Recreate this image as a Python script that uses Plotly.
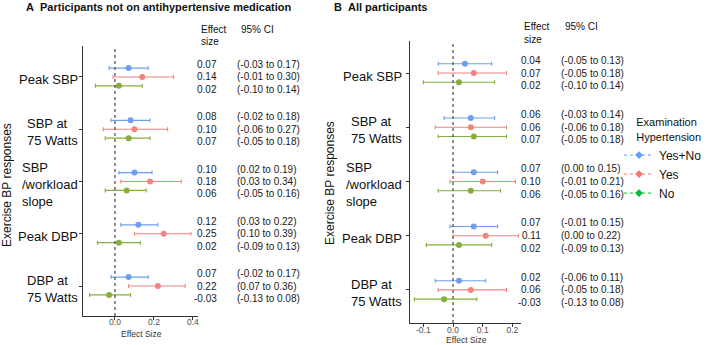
import plotly.graph_objects as go

W, H = 709, 345
FONT = "Liberation Sans, Arial, sans-serif"

categories = ["Peak SBP", "SBP at<br>75 Watts", "SBP<br>/workload<br>slope", "Peak DBP", "DBP at<br>75 Watts"]
groups = ["Yes+No", "Yes", "No"]

# Panel A: participants not on antihypertensive medication
a_est = {"Yes+No": [0.07, 0.08, 0.10, 0.12, 0.07],
         "Yes":    [0.14, 0.10, 0.18, 0.25, 0.22],
         "No":     [0.02, 0.07, 0.06, 0.02, -0.03]}
a_lo = {"Yes+No": [-0.03, -0.02, 0.02, 0.03, -0.02],
        "Yes":    [-0.01, -0.06, 0.03, 0.10, 0.07],
        "No":     [-0.10, -0.05, -0.05, -0.09, -0.13]}
a_hi = {"Yes+No": [0.17, 0.18, 0.19, 0.22, 0.17],
        "Yes":    [0.30, 0.27, 0.34, 0.39, 0.36],
        "No":     [0.14, 0.18, 0.16, 0.13, 0.08]}

# Panel B: all participants
b_est = {"Yes+No": [0.04, 0.06, 0.07, 0.07, 0.02],
         "Yes":    [0.07, 0.06, 0.10, 0.11, 0.06],
         "No":     [0.02, 0.07, 0.06, 0.02, -0.03]}
b_lo = {"Yes+No": [-0.05, -0.03, 0.00, -0.01, -0.06],
        "Yes":    [-0.05, -0.06, -0.01, 0.00, -0.05],
        "No":     [-0.10, -0.05, -0.05, -0.09, -0.13]}
b_hi = {"Yes+No": [0.13, 0.14, 0.15, 0.15, 0.11],
        "Yes":    [0.18, 0.18, 0.21, 0.22, 0.18],
        "No":     [0.14, 0.18, 0.16, 0.13, 0.08]}

a_xticks = [0.0, 0.2, 0.4]
b_xticks = [-0.1, 0.0, 0.1, 0.2]

point_colors = {"Yes+No": "#6E9FEC", "Yes": "#F08580", "No": "#86AE3A"}
legend_colors = {"Yes+No": "#619CFF", "Yes": "#F8766D", "No": "#00BA38"}
offsets = {"Yes+No": 0.17, "Yes": 0.0, "No": -0.17}
text_off = {"Yes+No": 0.235, "Yes": 0.0, "No": -0.235}

ncat = len(categories)
cat_pos = [ncat - i for i in range(ncat)]  # top to bottom

def px(x):
    return x / W

def py(y):
    return 1 - y / H

fig = go.Figure()

panels = [
    dict(est=a_est, lo=a_lo, hi=a_hi, xa="x", ya="y", eff_x=219, ci_x=235),
    dict(est=b_est, lo=b_lo, hi=b_hi, xa="x2", ya="y2", eff_x=543, ci_x=559),
]

annotations = []
for p in panels:
    for g in groups:
        ys = [c + offsets[g] for c in cat_pos]
        est = p["est"][g]
        plus = [h - e for h, e in zip(p["hi"][g], est)]
        minus = [e - l for e, l in zip(est, p["lo"][g])]
        fig.add_trace(go.Scatter(
            x=est, y=ys, mode="markers", xaxis=p["xa"], yaxis=p["ya"],
            marker=dict(color=point_colors[g], size=6),
            error_x=dict(type="data", symmetric=False, array=plus, arrayminus=minus,
                         color=point_colors[g], thickness=1.1, width=2),
            showlegend=False, hoverinfo="skip"))
        for c, e, l, h in zip(cat_pos, est, p["lo"][g], p["hi"][g]):
            yy = c + text_off[g]
            annotations.append(dict(x=px(p["eff_x"]), xref="paper", y=yy, yref=p["ya"],
                                    text=f"{e:.2f}", showarrow=False, xanchor="right",
                                    font=dict(size=10, color="#1a1a1a", family=FONT)))
            annotations.append(dict(x=px(p["ci_x"]), xref="paper", y=yy, yref=p["ya"],
                                    text=f"({l:.2f} to {h:.2f})", showarrow=False, xanchor="left",
                                    font=dict(size=10, color="#1a1a1a", family=FONT)))

# legend traces
for g in groups:
    fig.add_trace(go.Scatter(x=[None], y=[None], mode="lines+markers", name=g,
                             line=dict(color=legend_colors[g], dash="dot", width=1),
                             marker=dict(color=legend_colors[g], size=6, symbol="diamond"),
                             xaxis="x2", yaxis="y2"))

# category labels
for ya, xr in [("y", 80), ("y2", 404)]:
    for c, lab in zip(cat_pos, categories):
        annotations.append(dict(x=px(xr), xref="paper", y=c, yref=ya, text=lab,
                                showarrow=False, xanchor="right", align="left", yshift=-3,
                                font=dict(size=13, color="#111111", family=FONT)))

# headers
for ex, cx, ytop in [(199, 239, 29), (522, 563, 26)]:
    annotations.append(dict(x=px(ex), y=py(ytop), xref="paper", yref="paper", text="Effect",
                            showarrow=False, xanchor="left", yanchor="middle",
                            font=dict(size=10, color="#111111", family=FONT)))
    annotations.append(dict(x=px(ex), y=py(ytop + 13), xref="paper", yref="paper", text="size",
                            showarrow=False, xanchor="left", yanchor="middle",
                            font=dict(size=10, color="#111111", family=FONT)))
    annotations.append(dict(x=px(cx), y=py(ytop), xref="paper", yref="paper", text="95% CI",
                            showarrow=False, xanchor="left", yanchor="middle",
                            font=dict(size=10, color="#111111", family=FONT)))

# panel titles
for lx, tx, letter, txt in [(24, 38, "A", "Participants not on antihypertensive medication"),
                            (332, 346, "B", "All participants")]:
    annotations.append(dict(x=px(lx), y=py(7), xref="paper", yref="paper",
                            text="<b>" + letter + "</b>",
                            showarrow=False, xanchor="left", yanchor="middle",
                            font=dict(size=11, color="#111111", family=FONT)))
    annotations.append(dict(x=px(tx), y=py(7), xref="paper", yref="paper", text="<b>" + txt + "</b>",
                            showarrow=False, xanchor="left", yanchor="middle",
                            font=dict(size=11, color="#111111", family=FONT)))

# y axis titles
for xx, yy in [(7, 185), (330, 183)]:
    annotations.append(dict(x=px(xx), y=py(yy), xref="paper", yref="paper",
                            text="Exercise BP responses", textangle=-90, showarrow=False,
                            xanchor="center", yanchor="middle",
                            font=dict(size=12, color="#111111", family=FONT)))

# x axis titles
for xx, yy in [(141, 334), (466, 340)]:
    annotations.append(dict(x=px(xx), y=py(yy), xref="paper", yref="paper",
                            text="Effect Size", showarrow=False, xanchor="center", yanchor="middle",
                            font=dict(size=8.5, color="#333333", family=FONT)))

shapes = [
    dict(type="line", xref="x", yref="y domain", x0=0, x1=0, y0=0, y1=1,
         line=dict(color="#555555", width=1.3, dash="3px,3px")),
    dict(type="line", xref="x2", yref="y2 domain", x0=0, x1=0, y0=0, y1=1,
         line=dict(color="#555555", width=1.3, dash="3px,3px")),
]

axis_common = dict(showgrid=False, zeroline=False, showline=True, linecolor="#333333",
                   linewidth=1, ticks="outside", ticklen=3, tickcolor="#333333", automargin=False,
                   tickfont=dict(size=8.5, color="#4d4d4d", family=FONT))

fig.update_layout(
    width=W, height=H, margin=dict(l=0, r=0, t=0, b=0),
    paper_bgcolor="white", plot_bgcolor="white",
    font=dict(family=FONT),
    xaxis=dict(domain=[px(83), px(198)], range=[-0.164, 0.426], tickvals=a_xticks,
               ticktext=[f"{v:.1f}" for v in a_xticks], anchor="y", ticklabelstandoff=-5,
               **axis_common),
    yaxis=dict(domain=[1 - 316 / H, 1 - 46 / H], range=[0.426, 5.593], tickvals=cat_pos,
               showticklabels=False, anchor="x", **axis_common),
    xaxis2=dict(domain=[px(410), px(521)], range=[-0.145, 0.229], tickvals=b_xticks,
                ticktext=[f"{v:.1f}" for v in b_xticks], anchor="y2", ticklabelstandoff=-4,
                **axis_common),
    yaxis2=dict(domain=[1 - 323 / H, 1 - 41 / H], range=[0.39, 5.59], tickvals=cat_pos,
                showticklabels=False, anchor="x2", **axis_common),
    annotations=annotations, shapes=shapes,
    showlegend=True,
    legend=dict(x=px(619), y=py(112), xanchor="left", yanchor="top",
                title=dict(text="&nbsp;&nbsp;&nbsp;&nbsp;&nbsp;Examination<br>&nbsp;&nbsp;&nbsp;&nbsp;&nbsp;Hypertension",
                           font=dict(size=11, color="#111111", family=FONT)),
                font=dict(size=12, color="#111111", family=FONT), bgcolor="rgba(0,0,0,0)",
                itemwidth=30, tracegroupgap=0),
)

fig.write_html("out.html", config={"displayModeBar": False},
               post_script="document.body.style.margin='0px';")
